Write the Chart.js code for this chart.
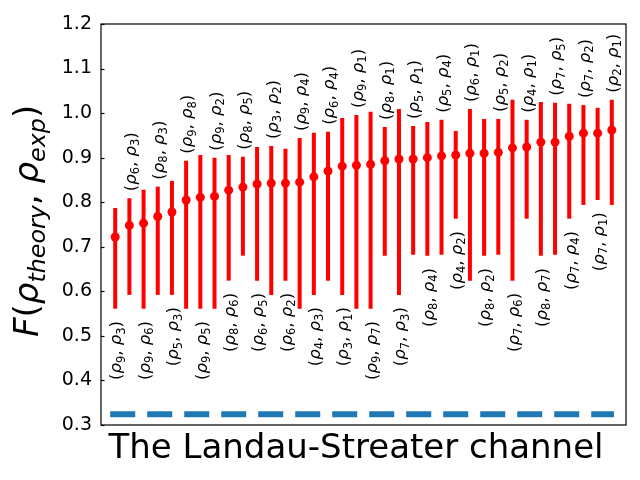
<!DOCTYPE html>
<html>
<head>
<meta charset="utf-8">
<script src="https://cdn.jsdelivr.net/npm/chart.js@4/dist/chart.umd.min.js"></script>
<style>
  html, body { margin: 0; padding: 0; background: #fff; }
  canvas { display: block; }
</style>
</head>
<body>
<canvas id="fid_chart" width="640" height="480"></canvas>
<script>
// pair (rho_a, rho_b) for each point, left to right
var pair_a = [9, 6, 9, 8, 5, 9, 9, 9, 8, 8, 6, 3, 6, 9, 4, 6, 3, 9,
              9, 8, 7, 5, 8, 5, 4, 6, 8, 5, 7, 4, 8, 7, 7, 7, 7, 2];
var pair_b = [3, 3, 6, 3, 3, 8, 5, 2, 6, 5, 5, 2, 2, 4, 3, 4, 1, 1,
              7, 1, 3, 1, 4, 4, 2, 1, 2, 2, 6, 1, 7, 5, 4, 2, 1, 1];
var fid_mean = [0.722, 0.748, 0.753, 0.768, 0.778, 0.805, 0.811, 0.813, 0.827, 0.834, 0.841, 0.843,
                0.843, 0.845, 0.857, 0.870, 0.881, 0.883, 0.885, 0.893, 0.897, 0.897, 0.900, 0.904,
                0.906, 0.910, 0.910, 0.912, 0.922, 0.924, 0.935, 0.935, 0.948, 0.955, 0.955, 0.962];
var fid_upper = [0.787, 0.809, 0.828, 0.835, 0.848, 0.893, 0.906, 0.900, 0.906, 0.902, 0.924, 0.926,
                 0.920, 0.944, 0.956, 0.958, 0.989, 0.996, 1.003, 0.969, 1.009, 0.971, 0.980, 0.985,
                 0.960, 1.009, 0.987, 0.987, 1.030, 0.985, 1.025, 1.023, 1.021, 1.018, 1.012, 1.030];
var fid_lower = [0.561, 0.592, 0.561, 0.592, 0.592, 0.561, 0.561, 0.561, 0.624, 0.680, 0.624, 0.592,
                 0.624, 0.561, 0.592, 0.624, 0.592, 0.561, 0.561, 0.680, 0.592, 0.682, 0.680, 0.682,
                 0.763, 0.624, 0.680, 0.682, 0.624, 0.763, 0.680, 0.682, 0.763, 0.794, 0.805, 0.794];
var baseline_value = 0.324;
var baseline_span = [-0.35, 35.15];
var y_ticks = [0.3, 0.4, 0.5, 0.6, 0.7, 0.8, 0.9, 1.0, 1.1, 1.2];
var x_title = 'The Landau-Streater channel';

var FONT = '"DejaVu Sans", sans-serif';

var points = [];
for (let i = 0; i < fid_mean.length; i++) {
  points.push({x: i, y: fid_mean[i]});
}

// draws text rotated to read upwards, starting at (x, y) on its baseline
function drawRotated(ctx, parts, x, y, size) {
  ctx.save();
  ctx.translate(x, y);
  ctx.rotate(-Math.PI / 2);
  ctx.fillStyle = '#000';
  ctx.textAlign = 'left';
  ctx.textBaseline = 'alphabetic';
  let cx = 0;
  for (const p of parts) {
    let s = p.sub ? size * 0.7 : size;
    ctx.font = (p.it ? 'italic ' : '') + s + 'px ' + FONT;
    ctx.fillText(p.t, cx, p.sub ? size * 0.2 : 0);
    cx += ctx.measureText(p.t).width;
  }
  ctx.restore();
}

function pairParts(a, b) {
  return [{t: '('}, {t: 'ρ', it: true}, {t: String(a), sub: true}, {t: ', '},
          {t: 'ρ', it: true}, {t: String(b), sub: true}, {t: ')'}];
}

const decor = {
  id: 'decor',
  beforeDatasetsDraw(chart) {
    const ctx = chart.ctx, xs = chart.scales.x, ys = chart.scales.y;
    ctx.save();
    ctx.strokeStyle = '#ff0000';
    ctx.lineWidth = 4;
    ctx.lineCap = 'butt';
    for (let i = 0; i < fid_mean.length; i++) {
      const px = xs.getPixelForValue(i);
      ctx.beginPath();
      ctx.moveTo(px, ys.getPixelForValue(fid_lower[i]));
      ctx.lineTo(px, ys.getPixelForValue(fid_upper[i]));
      ctx.stroke();
    }
    ctx.restore();
  },
  afterDraw(chart) {
    const ctx = chart.ctx, xs = chart.scales.x, ys = chart.scales.y;
    const a = chart.chartArea;
    ctx.save();
    // frame
    ctx.strokeStyle = '#000';
    ctx.lineWidth = 1.2;
    ctx.strokeRect(a.left, a.top, a.right - a.left, a.bottom - a.top);
    // inward ticks on the left
    for (const t of y_ticks) {
      const py = Math.round(ys.getPixelForValue(t)) + 0.5;
      ctx.beginPath();
      ctx.moveTo(a.left, py);
      ctx.lineTo(a.left + 3.5, py);
      ctx.stroke();
    }
    ctx.restore();

    // pair labels, alternating below / above
    const ls = 16.5;
    for (let i = 0; i < fid_mean.length; i++) {
      const px = xs.getPixelForValue(i) + ls * 0.38;
      let py;
      if (i % 2 === 0) {
        py = ys.getPixelForValue(fid_lower[i] - 0.16);
      } else {
        py = ys.getPixelForValue(fid_upper[i]) - 7;
      }
      drawRotated(ctx, pairParts(pair_a[i], pair_b[i]), px, py, ls);
    }

    // axis titles
    ctx.save();
    ctx.fillStyle = '#000';
    ctx.font = '34px ' + FONT;
    ctx.textAlign = 'center';
    ctx.textBaseline = 'alphabetic';
    ctx.fillText(x_title, 356, 458);
    ctx.restore();

    drawRotated(ctx, [{t: 'F', it: true}, {t: '('}, {t: 'ρ', it: true},
                      {t: 'theory', it: true, sub: true}, {t: ', '}, {t: 'ρ', it: true},
                      {t: 'exp', it: true, sub: true}, {t: ')'}], 38, 337, 34);
  }
};

new Chart(document.getElementById('fid_chart'), {
  type: 'scatter',
  data: {
    datasets: [{
      label: 'fidelity',
      data: points,
      backgroundColor: '#ff0000',
      borderWidth: 0,
      pointRadius: 4.5,
      pointHoverRadius: 4.5
    }, {
      type: 'line',
      label: 'baseline',
      data: [{x: baseline_span[0], y: baseline_value}, {x: baseline_span[1], y: baseline_value}],
      borderColor: '#1f77b4',
      borderWidth: 6,
      borderDash: [25, 12],
      borderCapStyle: 'butt',
      pointRadius: 0,
      fill: false
    }]
  },
  options: {
    responsive: false,
    devicePixelRatio: 1,
    animation: false,
    layout: { padding: { top: 24, right: 14, left: 0, bottom: 0 } },
    plugins: { legend: { display: false }, tooltip: { enabled: false } },
    scales: {
      x: {
        type: 'linear',
        min: -1,
        max: 36,
        ticks: { display: false },
        grid: { display: false, drawTicks: false },
        border: { display: false },
        afterFit: function (s) { s.height = 55; }
      },
      y: {
        min: 0.3,
        max: 1.2,
        afterBuildTicks: function (s) { s.ticks = y_ticks.map(v => ({value: v})); },
        ticks: {
          color: '#000',
          padding: 9,
          font: { family: 'DejaVu Sans', size: 19 },
          callback: v => v.toFixed(1)
        },
        grid: { display: false, drawTicks: false },
        border: { display: false },
        afterFit: function (s) { s.width = 101; }
      }
    }
  },
  plugins: [decor]
});
</script>
</body>
</html>
